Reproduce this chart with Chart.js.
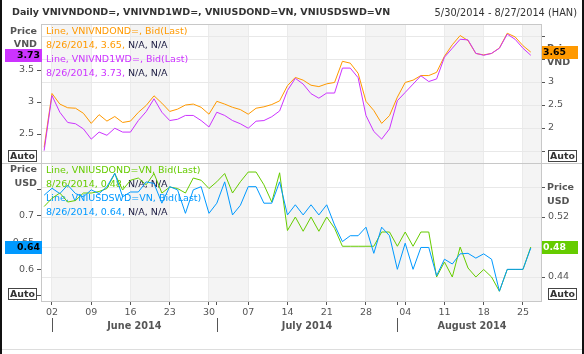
<!DOCTYPE html>
<html><head><meta charset="utf-8">
<script src="https://cdn.jsdelivr.net/npm/chart.js@4.4.0/dist/chart.umd.min.js"></script>
<style>html,body{margin:0;padding:0;background:#fff;overflow:hidden}canvas{display:block}</style>
</head><body><canvas id="c" width="584" height="354"></canvas>
<script>
// ---------- DATA ----------
const dates = [
 '2014-05-30',
 '2014-06-02','2014-06-03','2014-06-04','2014-06-05','2014-06-06',
 '2014-06-09','2014-06-10','2014-06-11','2014-06-12','2014-06-13',
 '2014-06-16','2014-06-17','2014-06-18','2014-06-19','2014-06-20',
 '2014-06-23','2014-06-24','2014-06-25','2014-06-26','2014-06-27',
 '2014-06-30','2014-07-01','2014-07-02','2014-07-03','2014-07-04',
 '2014-07-07','2014-07-08','2014-07-09','2014-07-10','2014-07-11',
 '2014-07-14','2014-07-15','2014-07-16','2014-07-17','2014-07-18',
 '2014-07-21','2014-07-22','2014-07-23','2014-07-24','2014-07-25',
 '2014-07-28','2014-07-29','2014-07-30','2014-07-31','2014-08-01',
 '2014-08-04','2014-08-05','2014-08-06','2014-08-07','2014-08-08',
 '2014-08-11','2014-08-12','2014-08-13','2014-08-14','2014-08-15',
 '2014-08-18','2014-08-19','2014-08-20','2014-08-21','2014-08-22',
 '2014-08-25','2014-08-26'
];
// VNIVNDOND= (orange, right axis, top pane)
const vnivndond = [
 1.58,2.75,2.52,2.44,2.43,2.32,2.10,2.29,2.15,2.25,2.12,2.15,2.34,2.49,2.70,2.54,
 2.36,2.41,2.50,2.52,2.45,2.30,2.58,2.52,2.45,2.40,2.30,2.43,2.46,2.51,2.59,2.92,
 3.10,3.04,2.93,2.90,2.96,2.99,3.45,3.41,3.19,2.58,2.38,2.10,2.27,2.67,2.99,3.04,
 3.14,3.14,3.21,3.56,3.81,4.01,3.90,3.62,3.59,3.62,3.74,4.06,3.98,3.79,3.65
];
// VNIVND1WD= (purple, left axis, top pane)
const vnivnd1wd = [
 2.24,3.10,2.84,2.68,2.66,2.58,2.42,2.53,2.48,2.59,2.53,2.53,2.71,2.85,3.05,2.84,
 2.71,2.73,2.79,2.79,2.71,2.61,2.84,2.79,2.71,2.66,2.59,2.70,2.71,2.77,2.86,3.18,
 3.37,3.28,3.13,3.06,3.14,3.14,3.53,3.53,3.38,2.79,2.54,2.42,2.58,3.02,3.15,3.28,
 3.41,3.32,3.36,3.70,3.84,3.98,3.97,3.76,3.73,3.76,3.84,4.06,3.98,3.84,3.73
];
// VNIUSDOND=VN (green, right axis, bottom pane)
const vniusdond = [
 0.534,0.545,0.552,0.540,0.542,0.552,0.552,0.554,0.558,0.578,0.556,0.569,0.572,0.563,0.578,0.552,
 0.560,0.558,0.552,0.572,0.569,0.558,0.567,0.578,0.552,0.567,0.580,0.580,0.563,0.540,0.579,0.502,
 0.520,0.501,0.520,0.501,0.520,0.505,0.481,0.481,0.481,0.481,0.481,0.500,0.500,0.481,0.500,0.481,
 0.500,0.500,0.440,0.460,0.440,0.480,0.452,0.440,0.450,0.440,0.421,0.450,0.450,0.450,0.48
];
// VNIUSDSWD=VN (blue, left axis, bottom pane)
const vniusdswd = [
 0.739,0.752,0.742,0.758,0.742,0.736,0.749,0.742,0.755,0.780,0.736,0.745,0.745,0.764,0.761,0.724,
 0.755,0.749,0.705,0.749,0.755,0.705,0.724,0.764,0.702,0.720,0.755,0.755,0.724,0.724,0.764,0.702,
 0.721,0.702,0.721,0.702,0.721,0.683,0.652,0.663,0.663,0.679,0.630,0.679,0.663,0.600,0.649,0.600,
 0.641,0.641,0.588,0.619,0.610,0.629,0.630,0.621,0.629,0.619,0.559,0.600,0.600,0.600,0.64
];
const dayTickLabels = ['02','09','16','23','30','07','14','21','28','04','11','18','25'];
const monthLabels = ['June 2014','July 2014','August 2014'];
const topLeftTicks = [2.5,3,3.5];
const topRightTicks = [1.5,2,2.5,3,3.5,4];
const topRightShown = [2,2.5,3];
const botLeftTicks = [0.55,0.6,0.65,0.7,0.75];
const botLeftShown = [0.6,0.65,0.7];
const botRightTicks = [0.44,0.48,0.52,0.56];
const botRightShown = [0.44,0.48,0.52];
const titleText = 'Daily VNIVNDOND=, VNIVND1WD=, VNIUSDOND=VN, VNIUSDSWD=VN';
const rangeText = '5/30/2014 - 8/27/2014 (HAN)';

// ---------- derived category info ----------
const dow = dates.map(d => new Date(d + 'T00:00:00Z').getUTCDay());
const mondayIdx = dow.map((d,i)=> d===1 ? i : -1).filter(i=>i>=0);
const monthStartIdx = dates.map((d,i)=> (i>0 && d.slice(5,7)!==dates[i-1].slice(5,7)) ? i : -1).filter(i=>i>=0);
const X_MIN = -0.4, X_MAX = dates.length + 0.3;
const monthCenters = monthStartIdx.map((s,k)=> (s + (k+1<monthStartIdx.length ? monthStartIdx[k+1] : dates.length+1))/2);
const xTicks = Array.from(new Set(mondayIdx.concat(monthStartIdx))).sort((a,b)=>a-b);
const xLabelMap = {}; mondayIdx.forEach((m,k)=> xLabelMap[m] = dayTickLabels[k]);
const lastDate = (()=>{const p=dates[dates.length-1].split('-'); return (+p[1])+'/'+(+p[2])+'/'+p[0];})();

// ---------- styling ----------
const ORANGE='#ff9900', PURPLE='#cc33ff', GREEN='#66cc00', BLUE='#0099ff';
const FAMILY = '"DejaVu Sans", sans-serif';
const mctx = document.createElement('canvas').getContext('2d');
function fit(text, weight, target){ mctx.font = weight+' 100px '+FAMILY; return Math.round(1000*target/mctx.measureText(text).width)/10; }
const FS = fit('Line, VNIVNDOND=, Bid(Last)','normal',141);
const FS_TITLE = fit(titleText,'bold',377);
const FS_RANGE = fit(rangeText,'normal',142);
const FS_MONTH = fit('August 2014','bold',69);
const FS_AXT = fit('Price','bold',27);
const FS_AUTO = fit('Auto','bold',25);
const FS_BOX = fit('3.73','bold',23);
const LEFT_W = 41, RIGHT_W = 43;

function yAxis(pos, stack, weight, min, max, ticks, shown, grid){
  return {
    type:'linear', position:pos, stack:stack, stackWeight:1, weight:weight, min:min, max:max,
    afterBuildTicks: s => { s.ticks = ticks.map(v=>({value:v})); },
    afterFit: s => { s.width = pos==='left' ? LEFT_W : RIGHT_W; },
    grid:{ drawOnChartArea:grid, color:'#e8e8e8', tickColor:'#555', tickLength:4, lineWidth:1 },
    border:{ display:true, color:'#c8c8c8' },
    ticks:{ font:{family:FAMILY,size:FS}, color:'#555', padding:3,
      callback: v => shown.includes(v) ? String(v) : '' }
  };
}

const fmt2 = v => v.toFixed(2);

const decor = {
  id:'decor',
  beforeDraw(chart){
    const {ctx, chartArea:a, scales:{x}} = chart;
    ctx.save();
    ctx.fillStyle='#fff'; ctx.fillRect(0,0,chart.width,chart.height);
    mondayIdx.forEach((m,k)=>{
      if (k%2!==0) return;
      const x0 = x.getPixelForValue(m);
      const x1 = k+1<mondayIdx.length ? x.getPixelForValue(mondayIdx[k+1]) : a.right;
      ctx.fillStyle='#f4f4f4';
      ctx.fillRect(x0, a.top, Math.min(x1,a.right)-x0, a.bottom-a.top);
    });
    ctx.restore();
  },
  beforeDatasetsDraw(chart){
    const {ctx, chartArea:a} = chart;
    ctx.save();
    ctx.font = FS+'px '+FAMILY;
    ctx.textBaseline='middle'; ctx.textAlign='left';
    const lx = a.left + 5;
    function block(top, s1, s2){
      [s1,s2].forEach((r,k)=>{
        const y1 = top + 8 + k*28, y2 = y1 + 14;
        ctx.fillStyle = r.color;
        ctx.fillText('Line, '+r.name+', Bid(Last)', lx, y1);
        const pre = lastDate+', '+fmt2(r.val)+', ';
        ctx.fillText(pre, lx, y2);
        ctx.fillStyle = '#1a1a40';
        ctx.fillText('N/A, N/A', lx + ctx.measureText(pre).width, y2);
      });
    }
    block(chart.scales.yTL.top,
      {name:'VNIVNDOND=', color:ORANGE, val:vnivndond[vnivndond.length-1]},
      {name:'VNIVND1WD=', color:PURPLE, val:vnivnd1wd[vnivnd1wd.length-1]});
    block(chart.scales.yBL.top,
      {name:'VNIUSDOND=VN', color:GREEN, val:vniusdond[vniusdond.length-1]},
      {name:'VNIUSDSWD=VN', color:BLUE, val:vniusdswd[vniusdswd.length-1]});
    ctx.restore();
  },
  afterDraw(chart){
    const {ctx, chartArea:a, scales} = chart;
    const W = chart.width, H = chart.height;
    ctx.save();
    ctx.strokeStyle='#c8c8c8'; ctx.lineWidth=1;
    ctx.beginPath(); ctx.moveTo(a.left, a.top+0.5); ctx.lineTo(a.right, a.top+0.5); ctx.stroke();
    const div = Math.round(scales.yTL.bottom)+0.5;
    ctx.beginPath(); ctx.moveTo(2, div); ctx.lineTo(W-2, div); ctx.stroke();
    // header
    ctx.textBaseline='middle';
    ctx.fillStyle='#333'; ctx.font='bold '+FS_TITLE+'px '+FAMILY; ctx.textAlign='left';
    ctx.fillText(titleText, 12, 13);
    ctx.font=FS_RANGE+'px '+FAMILY; ctx.textAlign='right';
    ctx.fillText(rangeText, 577, 13);
    // axis titles
    ctx.fillStyle='#555'; ctx.font='bold '+FS_AXT+'px '+FAMILY;
    const tT = scales.yTL.top, tB = scales.yBL.top;
    ctx.textAlign='right';
    ctx.fillText('Price', 37, tT+7.5); ctx.fillText('VND', 37, tT+21);
    ctx.fillText('Price', 37, tB+7.5); ctx.fillText('USD', 37, tB+21.5);
    ctx.textAlign='left';
    ctx.fillText('Price', 547, tT+25); ctx.fillText('VND', 547, tT+39);
    ctx.fillText('Price', 547, tB+25); ctx.fillText('USD', 547, tB+39);
    // last-value boxes
    function box(scaleId, val, color, side, textColor){
      const y = scales[scaleId].getPixelForValue(val);
      const x0 = side==='left' ? 5 : 542, w = side==='left' ? 37 : 36;
      ctx.fillStyle=color; ctx.fillRect(x0, Math.round(y-6.5), w, 13);
      ctx.fillStyle=textColor; ctx.font='bold '+FS_BOX+'px '+FAMILY;
      ctx.textAlign = side==='left' ? 'right' : 'left';
      ctx.fillText(fmt2(val), side==='left' ? 40 : 543, Math.round(y-6.5)+7);
    }
    box('yTL', vnivnd1wd[vnivnd1wd.length-1], PURPLE, 'left', '#000');
    box('yTR', vnivndond[vnivndond.length-1], ORANGE, 'right', '#000');
    box('yBL', vniusdswd[vniusdswd.length-1], BLUE, 'left', '#000');
    box('yBR', vniusdond[vniusdond.length-1], GREEN, 'right', '#fff');
    // Auto boxes
    function auto(x0, bottom){
      const y0 = Math.round(bottom) - 12.5;
      ctx.fillStyle='#fff'; ctx.fillRect(x0+0.5, y0, 28, 11);
      ctx.strokeStyle='#444'; ctx.lineWidth=1; ctx.strokeRect(x0+0.5, y0, 28, 11);
      ctx.fillStyle='#333'; ctx.font='bold '+FS_AUTO+'px '+FAMILY; ctx.textAlign='center';
      ctx.fillText('Auto', x0+14.5, y0+6);
    }
    auto(8, scales.yTL.bottom); auto(8, scales.yBL.bottom);
    auto(548, scales.yTL.bottom); auto(548, scales.yBL.bottom);
    // month separators
    ctx.strokeStyle='#555'; ctx.lineWidth=1;
    monthStartIdx.forEach(s=>{
      const px = Math.round(scales.x.getPixelForValue(s))+0.5;
      ctx.beginPath(); ctx.moveTo(px, 318); ctx.lineTo(px, 332); ctx.stroke();
    });
    // frame
    ctx.fillStyle='#111'; ctx.fillRect(0,0,2,H); ctx.fillRect(W-2,0,2,H);
    ctx.strokeStyle='#ddd'; ctx.beginPath(); ctx.moveTo(2, H-4.5); ctx.lineTo(W-2, H-4.5); ctx.stroke();
    ctx.restore();
  }
};

const pts = arr => arr.map((v,i)=>({x:i, y:v}));
new Chart(document.getElementById('c').getContext('2d'), {
  type:'line',
  data:{ datasets:[
    {label:'VNIUSDSWD=VN', data:pts(vniusdswd), yAxisID:'yBL', xAxisID:'x', borderColor:BLUE},
    {label:'VNIUSDOND=VN', data:pts(vniusdond), yAxisID:'yBR', xAxisID:'x', borderColor:GREEN},
    {label:'VNIVND1WD=', data:pts(vnivnd1wd), yAxisID:'yTL', xAxisID:'x', borderColor:PURPLE},
    {label:'VNIVNDOND=', data:pts(vnivndond), yAxisID:'yTR', xAxisID:'x', borderColor:ORANGE}
  ]},
  options:{
    responsive:false, animation:false, devicePixelRatio:1,
    layout:{padding:{top:24,left:0,right:0,bottom:0}},
    plugins:{legend:{display:false}, tooltip:{enabled:false}},
    elements:{point:{radius:0}, line:{borderWidth:1, tension:0, fill:false}},
    scales:{
      x:{ type:'linear', position:'bottom', min:X_MIN, max:X_MAX, weight:1,
        afterBuildTicks: s => { s.ticks = xTicks.map(v=>({value:v})); },
        afterFit: s => { s.height = 18; },
        grid:{ drawOnChartArea:true, color: c => (c.tick && mondayIdx.includes(c.tick.value)) ? '#ebebeb' : 'rgba(0,0,0,0)',
               tickColor:'#555', tickLength:4 },
        border:{display:true, color:'#c8c8c8'},
        ticks:{ autoSkip:false, maxRotation:0, padding:2, font:{family:FAMILY,size:FS}, color:'#555',
          callback: v => xLabelMap[v] !== undefined ? xLabelMap[v] : '' }
      },
      xm:{ type:'linear', position:'bottom', min:X_MIN, max:X_MAX, weight:2,
        afterBuildTicks: s => { s.ticks = monthCenters.map(v=>({value:v})); },
        afterFit: s => { s.height = 35; },
        grid:{display:false, drawTicks:false}, border:{display:false},
        ticks:{ autoSkip:false, maxRotation:0, padding:2, font:{family:FAMILY,size:FS_MONTH,weight:'bold'}, color:'#555',
          callback: (v,i) => monthLabels[i] }
      },
      yTL: yAxis('left','L',2, 2.0547, 4.21875, topLeftTicks, topLeftTicks, false),
      yBL: yAxis('left','L',1, 0.5406, 0.8003, botLeftTicks, botLeftShown, false),
      yTR: yAxis('right','R',1, 1.25, 4.2609, topRightTicks, topRightShown, true),
      yBR: yAxis('right','R',2, 0.408, 0.5927, botRightTicks, botRightShown, true)
    }
  },
  plugins:[decor]
});
</script></body></html>
